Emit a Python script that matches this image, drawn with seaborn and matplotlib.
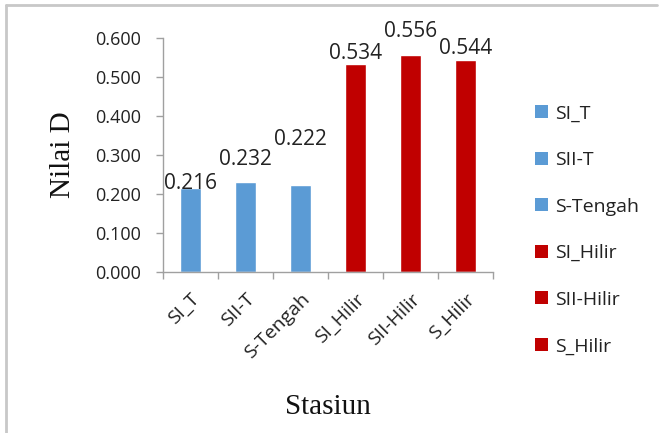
import matplotlib
matplotlib.use("Agg")
import matplotlib.pyplot as plt
import seaborn as sns
import pandas as pd
from matplotlib.lines import Line2D

stations = ["SI_T", "SII-T", "S-Tengah", "SI_Hilir", "SII-Hilir", "S_Hilir"]
nilai_d = [0.216, 0.232, 0.222, 0.534, 0.556, 0.544]
bar_colors = ["#5B9BD5", "#5B9BD5", "#5B9BD5", "#C00000", "#C00000", "#C00000"]
y_ticks = [0.0, 0.1, 0.2, 0.3, 0.4, 0.5, 0.6]

sns.set_theme(style="white")
plt.rcParams["font.family"] = ["Open Sans", "DejaVu Sans"]

df = pd.DataFrame({"Stasiun": stations, "Nilai": nilai_d})

fig = plt.figure(figsize=(6.62, 4.33), dpi=100)
ax = fig.add_axes([0.246, 0.372, 0.499, 0.540])

sns.barplot(data=df, x="Stasiun", y="Nilai", hue="Stasiun", order=stations,
            hue_order=stations, palette=dict(zip(stations, bar_colors)),
            dodge=False, width=0.39, saturation=1, legend=True, ax=ax)

ax.set_ylim(0, 0.6)
ax.set_xlim(-0.5, 5.5)
ax.set_yticks(y_ticks)
ax.set_yticklabels([f"{v:.3f}" for v in y_ticks], fontsize=13, color="#222222")

ax.set_xticks(range(len(stations)))
ax.set_xticklabels(stations, rotation=45, ha="right", rotation_mode="anchor",
                   fontsize=14, color="#222222")
ax.tick_params(axis="x", length=0, pad=13)
ax.tick_params(axis="y", length=5, width=1, color="#a0a0a0", direction="out", left=True, pad=11)

# minor ticks between categories on x axis
ax.set_xticks([i - 0.5 for i in range(len(stations) + 1)], minor=True)
ax.tick_params(axis="x", which="minor", length=5, width=1, color="#a0a0a0", direction="out", bottom=True)

for side in ["top", "right"]:
    ax.spines[side].set_visible(False)
for side in ["left", "bottom"]:
    ax.spines[side].set_color("#a0a0a0")
    ax.spines[side].set_linewidth(1)

label_offsets = [(0, 2.7), (0, 16.2), (0, 33), (0, 7.5), (0, 17), (0, 8.5)]
for i, (v, off) in enumerate(zip(nilai_d, label_offsets)):
    ax.annotate(f"{v:.3f}", xy=(i, v), xytext=off, textcoords="offset points",
                ha="center", va="center", fontsize=15, color="#222222")

ax.set_ylabel("Nilai D", family="Liberation Serif", fontsize=21, color="#111111")
ax.yaxis.set_label_coords(-0.264, 0.5)
ax.set_xlabel("Stasiun", family="Liberation Serif", fontsize=21, color="#111111")
ax.xaxis.set_label_coords(0.5, -0.52)

handles = [plt.Rectangle((0, 0), 1, 1, facecolor=c, edgecolor="none") for c in bar_colors]
leg = ax.legend(handles, stations, loc="center left", bbox_to_anchor=(1.075, 0.18),
                frameon=False, fontsize=14, handlelength=0.65, handleheight=0.65,
                handletextpad=0.35, labelspacing=1.47)
for t in leg.get_texts():
    t.set_color("#222222")

# outer border (top and left visible)
fig.add_artist(Line2D([6/662, 657/662], [1 - 5/433, 1 - 5/433], transform=fig.transFigure,
                      color="#c8c8c8", linewidth=2))
fig.add_artist(Line2D([6/662, 6/662], [0, 1 - 5/433], transform=fig.transFigure,
                      color="#c8c8c8", linewidth=2))

fig.savefig("out.png", dpi=100)
